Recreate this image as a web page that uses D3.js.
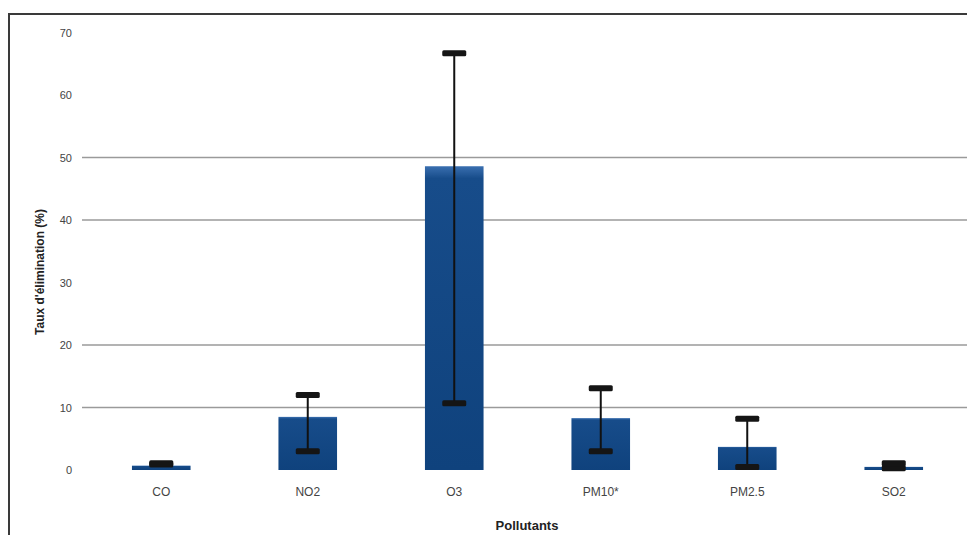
<!DOCTYPE html>
<html><head><meta charset="utf-8">
<script src="https://cdn.jsdelivr.net/npm/d3@7"></script>
<style>body{margin:0;background:#fff}svg{display:block}</style>
</head><body>
<svg id="c" width="967" height="535"></svg>
<script>
const categories = ["CO","NO2","O3","PM10*","PM2.5","SO2"];
const values     = [0.7, 8.5, 48.6, 8.3, 3.7, 0.5];
const errLow     = [0.9, 3.0, 10.7, 3.0, 0.5, 0.3];
const errHigh    = [1.1, 12.0, 66.7, 13.1, 8.2, 1.1];
const yTicks     = [0,10,20,30,40,50,60,70];
const gridTicks  = [10,20,40,50];

const svg = d3.select("#c");
const x = d3.scaleBand().domain(categories).range([88, 967]).paddingInner(0.6).paddingOuter(0.3);
const y = d3.scaleLinear().domain([0,70]).range([470, 32.5]);

const defs = svg.append("defs");
const g = defs.append("linearGradient").attr("id","bg").attr("x1",0).attr("y1",0).attr("x2",0).attr("y2",1);
g.append("stop").attr("offset","0%").attr("stop-color","#3a6fb0");
g.append("stop").attr("offset","4%").attr("stop-color","#174c8a");
g.append("stop").attr("offset","100%").attr("stop-color","#0f427d");

// frame
svg.append("rect").attr("x",9).attr("y",14).attr("width",970).attr("height",540)
  .attr("fill","none").attr("stroke","#3a3a3a").attr("stroke-width",2);

// gridlines
svg.append("g").selectAll("line").data(gridTicks).join("line")
  .attr("x1",82).attr("x2",967).attr("y1",d=>y(d)).attr("y2",d=>y(d))
  .attr("stroke","#9a9a9a").attr("stroke-width",1.6);

// y axis
const ya = svg.append("g").attr("transform","translate(72,0)")
  .call(d3.axisLeft(y).tickValues(yTicks).tickSize(0).tickPadding(0));
ya.select(".domain").remove();
ya.selectAll("text").attr("font-family","Liberation Sans, Arial, sans-serif").attr("font-size",11).attr("fill","#444");

// x axis labels
const xa = svg.append("g").attr("transform","translate(0,470)")
  .call(d3.axisBottom(x).tickSize(0).tickPadding(17));
xa.select(".domain").remove();
xa.selectAll("text").attr("font-family","Liberation Sans, Arial, sans-serif").attr("font-size",12).attr("fill","#444");

// bars
svg.append("g").selectAll("rect").data(categories).join("rect")
  .attr("x",d=>x(d)).attr("width",x.bandwidth())
  .attr("y",(d,i)=>y(values[i])).attr("height",(d,i)=>Math.max(3, y(0)-y(values[i])))
  .attr("fill","url(#bg)");

// error bars
const eb = svg.append("g");
eb.selectAll("line").data(categories).join("line")
  .attr("x1",d=>x(d)+x.bandwidth()/2).attr("x2",d=>x(d)+x.bandwidth()/2)
  .attr("y1",(d,i)=>y(errLow[i])).attr("y2",(d,i)=>y(errHigh[i]))
  .attr("stroke","#111").attr("stroke-width",2);
const caps = categories.flatMap((c,i)=>[{c,v:errLow[i]},{c,v:errHigh[i]}]);
eb.selectAll("rect").data(caps).join("rect")
  .attr("x",d=>x(d.c)+x.bandwidth()/2-12).attr("width",24)
  .attr("y",d=>y(d.v)-3).attr("height",6).attr("rx",1.5)
  .attr("fill","#151515");

// titles
svg.append("text").attr("transform","translate(44,272) rotate(-90)")
  .attr("text-anchor","middle").attr("font-family","Liberation Sans, Arial, sans-serif")
  .attr("font-size",12).attr("font-weight","bold").attr("fill","#222")
  .text("Taux d'élimination (%)");
svg.append("text").attr("x",527).attr("y",530).attr("text-anchor","middle")
  .attr("font-family","Liberation Sans, Arial, sans-serif").attr("font-size",13)
  .attr("font-weight","bold").attr("fill","#222").text("Pollutants");
</script>
</body></html>
